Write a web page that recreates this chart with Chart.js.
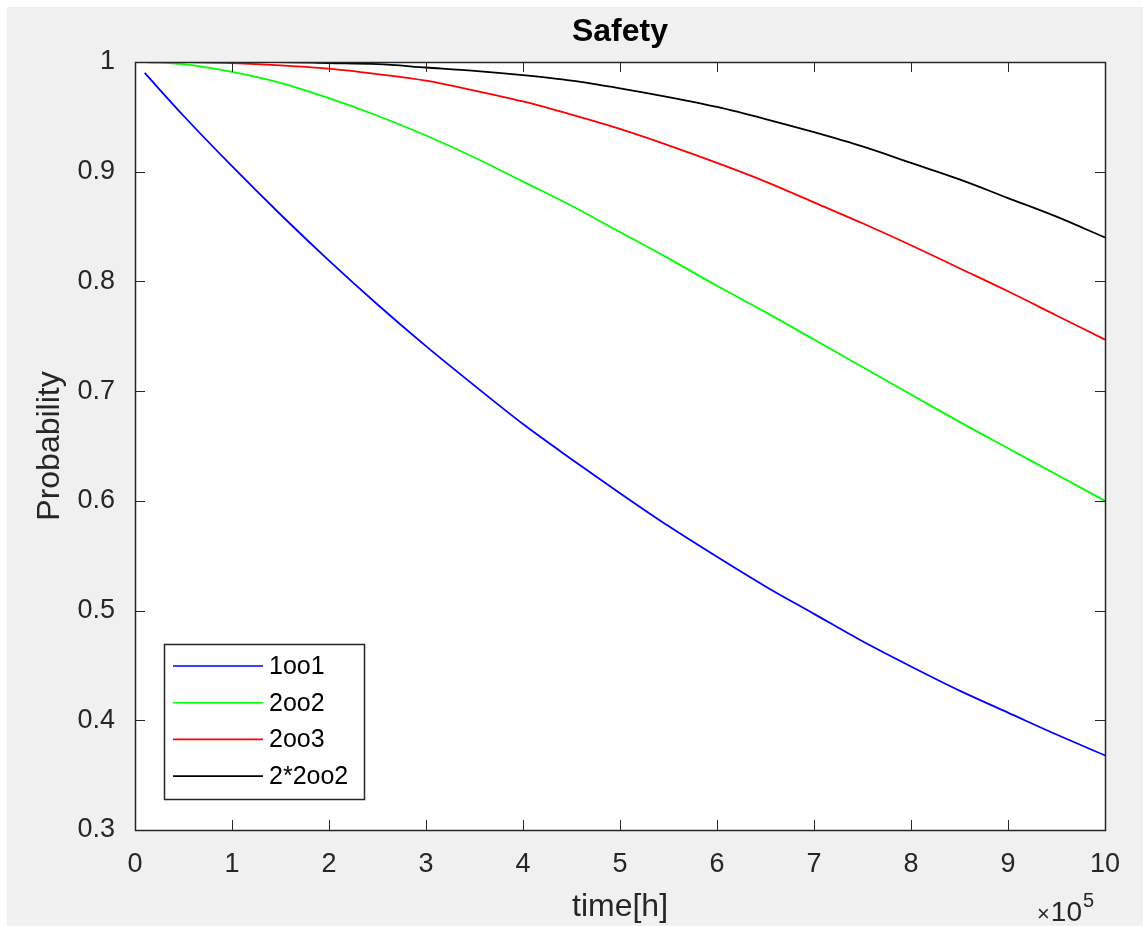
<!DOCTYPE html>
<html>
<head>
<meta charset="utf-8">
<script src="https://cdn.jsdelivr.net/npm/chart.js@4.4.0/dist/chart.umd.min.js"></script>
<style>
  html, body { margin: 0; padding: 0; background: #ffffff; }
  #frame { position: absolute; left: 7px; top: 7px; width: 1136px; height: 919px; background: #f0f0f0; }
  #wrap { position: absolute; left: 0; top: 0; width: 1143px; height: 926px; }
</style>
</head>
<body>
<div id="frame"></div>
<div id="wrap"><canvas id="chart"></canvas></div>
<script>
// time axis, in units of 1e5 h
const TIME = [0.1, 0.5, 1, 1.5, 2, 2.5, 3, 3.5, 4, 4.5, 5, 5.5, 6, 6.5, 7, 7.5, 8, 8.5, 9, 9.5, 10];

// safety probability
const S_1OO1  = [0.990, 0.951, 0.905, 0.861, 0.819, 0.779, 0.741, 0.705, 0.670, 0.638, 0.607,
                 0.577, 0.549, 0.522, 0.497, 0.472, 0.449, 0.427, 0.407, 0.387, 0.368];
const S_2OO2  = [1.000, 0.998, 0.991, 0.981, 0.967, 0.951, 0.933, 0.913, 0.891, 0.869, 0.845,
                 0.821, 0.796, 0.772, 0.747, 0.722, 0.697, 0.672, 0.648, 0.624, 0.600];
const S_2OO3  = [1.000, 1.000, 0.999, 0.997, 0.994, 0.989, 0.983, 0.974, 0.964, 0.952, 0.939,
                 0.924, 0.908, 0.891, 0.872, 0.853, 0.833, 0.812, 0.791, 0.769, 0.747];
const S_22OO2 = [1.000, 1.000, 1.000, 1.000, 0.999, 0.998, 0.995, 0.992, 0.988, 0.983, 0.976,
                 0.968, 0.959, 0.948, 0.936, 0.923, 0.908, 0.893, 0.876, 0.859, 0.840];

const SERIES_LABELS = ["1oo1", "2oo2", "2oo3", "2*2oo2"];
const SERIES_COLORS = ["#0000ff", "#00ff00", "#ff0000", "#000000"];
const SERIES_VALUES = [S_1OO1, S_2OO2, S_2OO3, S_22OO2];

const AXIS_COLOR = "#262626";
const FONT = "'Liberation Sans', Arial, Helvetica, sans-serif";

const matlabFrame = {
  id: "matlabFrame",
  beforeDatasetsDraw(chart) {
    const { ctx, chartArea: a } = chart;
    ctx.save();
    ctx.fillStyle = "#ffffff";
    ctx.fillRect(a.left, a.top, a.right - a.left, a.bottom - a.top);
    ctx.restore();
  },
  afterDraw(chart) {
    const { ctx, chartArea: a, scales } = chart;
    ctx.save();
    ctx.strokeStyle = AXIS_COLOR;
    ctx.lineWidth = 1;
    // inward ticks on all four sides
    const tl = 10;
    ctx.beginPath();
    scales.x.ticks.forEach((t, i) => {
      const px = Math.round(scales.x.getPixelForTick(i)) + 0.5;
      ctx.moveTo(px, a.bottom); ctx.lineTo(px, a.bottom - tl);
      ctx.moveTo(px, a.top); ctx.lineTo(px, a.top + tl);
    });
    scales.y.ticks.forEach((t, i) => {
      const py = Math.round(scales.y.getPixelForTick(i)) + 0.5;
      ctx.moveTo(a.left, py); ctx.lineTo(a.left + tl, py);
      ctx.moveTo(a.right, py); ctx.lineTo(a.right - tl, py);
    });
    ctx.stroke();
    ctx.lineWidth = 1.5;
    ctx.strokeRect(Math.round(a.left) + 0.5, Math.round(a.top) + 0.5,
                   Math.round(a.right - a.left), Math.round(a.bottom - a.top));

    // legend box, lower left inside the axes
    const lx = a.left + 29, ly = a.bottom - 186, lw = 200, lh = 155;
    ctx.fillStyle = "#ffffff";
    ctx.fillRect(lx, ly, lw, lh);
    ctx.lineWidth = 1.5;
    ctx.strokeStyle = AXIS_COLOR;
    ctx.strokeRect(lx + 0.5, ly + 0.5, lw, lh);
    ctx.font = "25px " + FONT;
    ctx.textBaseline = "middle";
    ctx.textAlign = "left";
    chart.data.datasets.forEach((ds, i) => {
      const ry = ly + 22 + i * 36.7;
      ctx.strokeStyle = ds.borderColor;
      ctx.lineWidth = 1.6;
      ctx.beginPath();
      ctx.moveTo(lx + 9, ry); ctx.lineTo(lx + 99, ry);
      ctx.stroke();
      ctx.fillStyle = "#000000";
      ctx.fillText(ds.label, lx + 105, ry + 1);
    });

    // exponent label under the right end of the x axis
    ctx.fillStyle = AXIS_COLOR;
    ctx.textBaseline = "alphabetic";
    ctx.textAlign = "left";
    let ex = a.right - 68;
    const base = a.bottom + 91;
    ctx.font = "22px " + FONT;
    ctx.fillText("\u00d7", ex, base);
    ex += ctx.measureText("\u00d7").width + 1;
    ctx.font = "28px " + FONT;
    ctx.fillText("10", ex, base);
    ex += ctx.measureText("10").width + 1;
    ctx.font = "20px " + FONT;
    ctx.fillText("5", ex, base - 14);
    ctx.restore();
  }
};

const datasets = SERIES_LABELS.map((label, i) => ({
  label,
  data: TIME.map((t, j) => ({ x: t, y: SERIES_VALUES[i][j] })),
  borderColor: SERIES_COLORS[i],
  backgroundColor: SERIES_COLORS[i],
  borderWidth: 1.8,
  pointRadius: 0,
  cubicInterpolationMode: "monotone",
  fill: false,
}));

new Chart(document.getElementById("chart"), {
  type: "line",
  data: { datasets },
  options: {
    responsive: true,
    maintainAspectRatio: false,
    animation: false,
    layout: { padding: { left: 0, top: 0, right: 38, bottom: 0 } },
    plugins: {
      legend: { display: false },
      tooltip: { enabled: false },
      title: {
        display: true,
        text: "Safety",
        fullSize: false,
        color: "#000000",
        font: { family: FONT, size: 32, weight: "bold", lineHeight: 1.2 },
        padding: { top: 12.8, bottom: 10.8 },
      },
    },
    scales: {
      x: {
        type: "linear",
        min: 0, max: 10,
        grid: { display: false },
        border: { display: false },
        ticks: { stepSize: 1, color: AXIS_COLOR, padding: 10, maxRotation: 0,
                 font: { family: FONT, size: 27 } },
        title: { display: true, text: "time[h]", color: AXIS_COLOR,
                 font: { family: FONT, size: 32 }, padding: { top: 0, bottom: 0 } },
        afterFit: s => { s.height = 96; },
      },
      y: {
        min: 0.3, max: 1,
        grid: { display: false },
        border: { display: false },
        ticks: { stepSize: 0.1, color: AXIS_COLOR, padding: 12,
                 font: { family: FONT, size: 27 },
                 callback: v => String(+v.toFixed(1)) },
        title: { display: true, text: "Probability", color: AXIS_COLOR,
                 font: { family: FONT, size: 32 }, padding: { top: 31, bottom: 0 } },
        afterFit: s => { s.width = 135; },
      },
    },
  },
  plugins: [matlabFrame],
});
</script>
</body>
</html>
